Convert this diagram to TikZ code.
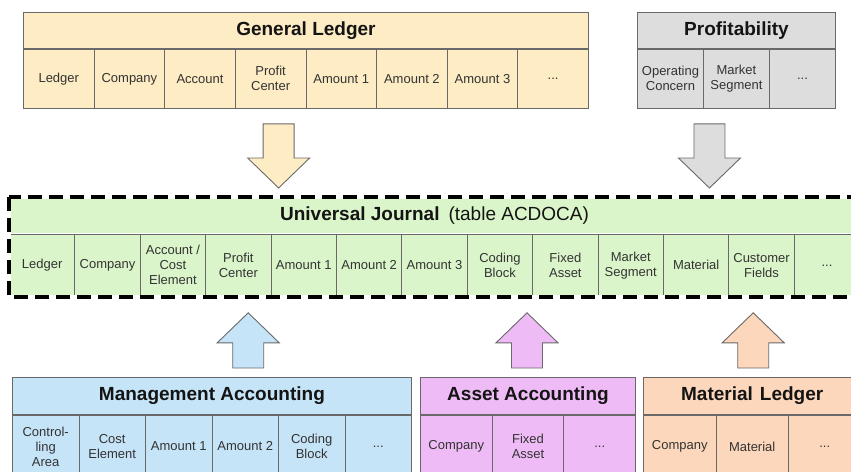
\documentclass[tikz,border=0pt]{standalone}
\usepackage{fontspec}
\setmainfont{Liberation Sans}
\usetikzlibrary{positioning,calc}

\definecolor{glfill}{RGB}{253,236,196}
\definecolor{pafill}{RGB}{221,221,221}
\definecolor{ujfill}{RGB}{219,245,202}
\definecolor{cofill}{RGB}{198,228,248}
\definecolor{aafill}{RGB}{239,187,246}
\definecolor{mlfill}{RGB}{252,215,187}
\definecolor{edge}{RGB}{105,105,105}

\newcommand{\moredots}{...}
% block arrow: fill, from, to
\newcommand{\fatarrow}[3]{%
  \coordinate (fa-s) at (#2);
  \coordinate (fa-t) at (#3);
  \coordinate (fa-h) at ($(fa-t)!30pt!(fa-s)$);
  \draw[bigarrow, fill=#1] ($(fa-s)!15.5pt!90:(fa-t)$) -- ($(fa-h)!15.5pt!90:(fa-t)$)
    -- ($(fa-h)!31pt!90:(fa-t)$) -- (fa-t) -- ($(fa-h)!31pt!-90:(fa-t)$)
    -- ($(fa-h)!15.5pt!-90:(fa-t)$) -- ($(fa-s)!15.5pt!-90:(fa-t)$) -- cycle;
}

\begin{document}
\begin{tikzpicture}[x=1pt, y=-1pt,
  title/.style={draw=edge, line width=0.9pt, anchor=north west, inner sep=0pt,
    text=black!92, font=\bfseries\fontsize{19}{22}\selectfont},
  cell/.style={draw=edge, line width=0.9pt, anchor=north west, inner sep=0pt,
    align=center, text=black!80, font=\fontsize{13}{15}\selectfont},
  bigarrow/.style={draw=edge, line width=0.9pt, line join=miter},
  ujdash/.style={line width=3.6pt, dash pattern=on 14pt off 7pt}]
\useasboundingbox (0,0) rectangle (851,471);
\clip (0,0) rectangle (851,471);

% General Ledger
\node[title, fill=glfill, minimum width=565pt, minimum height=36pt] (gl) at (23,12) {General Ledger};
\foreach \lbl [count=\i] in {Ledger, Company, Account, {Profit\\Center}, Amount 1, Amount 2, Amount 3, \moredots}
  \node[cell, fill=glfill, minimum width=70.625pt, minimum height=59pt] (gl-\i) at ($(gl.south west)+({(\i-1)*70.625},0)$) {\lbl};

% Profitability
\node[title, fill=pafill, minimum width=198pt, minimum height=36pt] (pa) at (637,12) {Profitability};
\foreach \lbl [count=\i] in {{Operating\\Concern}, {Market\\Segment}, \moredots}
  \node[cell, fill=pafill, minimum width=66pt, minimum height=59pt] (pa-\i) at ($(pa.south west)+({(\i-1)*66},0)$) {\lbl};

% Universal Journal
\node[title, draw=none, fill=ujfill, minimum width=850.2pt, minimum height=36pt] (uj) at (9,197)
  {Universal Journal\hspace{9pt}\mdseries(table ACDOCA)};
\foreach \lbl [count=\i] in {Ledger, Company, {Account /\\Cost\\Element}, {Profit\\Center}, Amount 1, Amount 2, Amount 3,
    {Coding\\Block}, {Fixed\\Asset}, {Market\\Segment}, Material, {Customer\\Fields}, \moredots}
  \node[cell, fill=ujfill, minimum width=65.4pt, minimum height=62pt] (uj-\i) at ($(uj.south west)+({(\i-1)*65.4},0)$) {\lbl};
\draw[white, line width=3.6pt] (uj.north west) rectangle (uj-13.south east);
\draw[ujdash] (uj.north west) rectangle (uj-13.south east);

% Management Accounting
\node[title, fill=cofill, minimum width=399pt, minimum height=37pt] (co) at (12,377) {Management Accounting};
\foreach \lbl [count=\i] in {{Control-\\ling\\Area}, {Cost\\Element}, Amount 1, Amount 2, {Coding\\Block}, \moredots}
  \node[cell, fill=cofill, minimum width=66.5pt, minimum height=62pt] (co-\i) at ($(co.south west)+({(\i-1)*66.5},0)$) {\lbl};

% Asset Accounting
\node[title, fill=aafill, minimum width=215.1pt, minimum height=37pt] (aa) at (420,377) {Asset Accounting};
\foreach \lbl [count=\i] in {Company, {Fixed\\Asset}, \moredots}
  \node[cell, fill=aafill, minimum width=71.7pt, minimum height=62pt] (aa-\i) at ($(aa.south west)+({(\i-1)*71.7},0)$) {\lbl};

% Material Ledger
\node[title, fill=mlfill, minimum width=217.5pt, minimum height=37pt] (ml) at (643,377) {Material\hspace{7pt}Ledger};
\foreach \lbl [count=\i] in {Company, Material, \moredots}
  \node[cell, fill=mlfill, minimum width=72.5pt, minimum height=62pt] (ml-\i) at ($(ml.south west)+({(\i-1)*72.5},0)$) {\lbl};

% arrows into the journal
\coordinate (gl-out) at ($(gl-4.south)+(8,15)$);
\coordinate (gl-in) at ($(gl-out |- uj.north)+(0,-9)$);
\coordinate (pa-out) at ($(pa-2.south)+(-27,15)$);
\coordinate (pa-in) at ($(pa-out |- uj.north)+(0,-9)$);
\coordinate (co-out) at ($(co-4 |- co.north)+(3,-9)$);
\coordinate (co-in) at ($(co-out |- uj-1.south)+(0,16)$);
\coordinate (aa-out) at ($(aa-2 |- aa.north)+(-1,-9)$);
\coordinate (aa-in) at ($(aa-out |- uj-1.south)+(0,16)$);
\coordinate (ml-out) at ($(ml-2 |- ml.north)+(1,-9)$);
\coordinate (ml-in) at ($(ml-out |- uj-1.south)+(0,16)$);
\fatarrow{glfill}{gl-out}{gl-in}
\fatarrow{pafill}{pa-out}{pa-in}
\fatarrow{cofill}{co-out}{co-in}
\fatarrow{aafill}{aa-out}{aa-in}
\fatarrow{mlfill}{ml-out}{ml-in}
\end{tikzpicture}
\end{document}
